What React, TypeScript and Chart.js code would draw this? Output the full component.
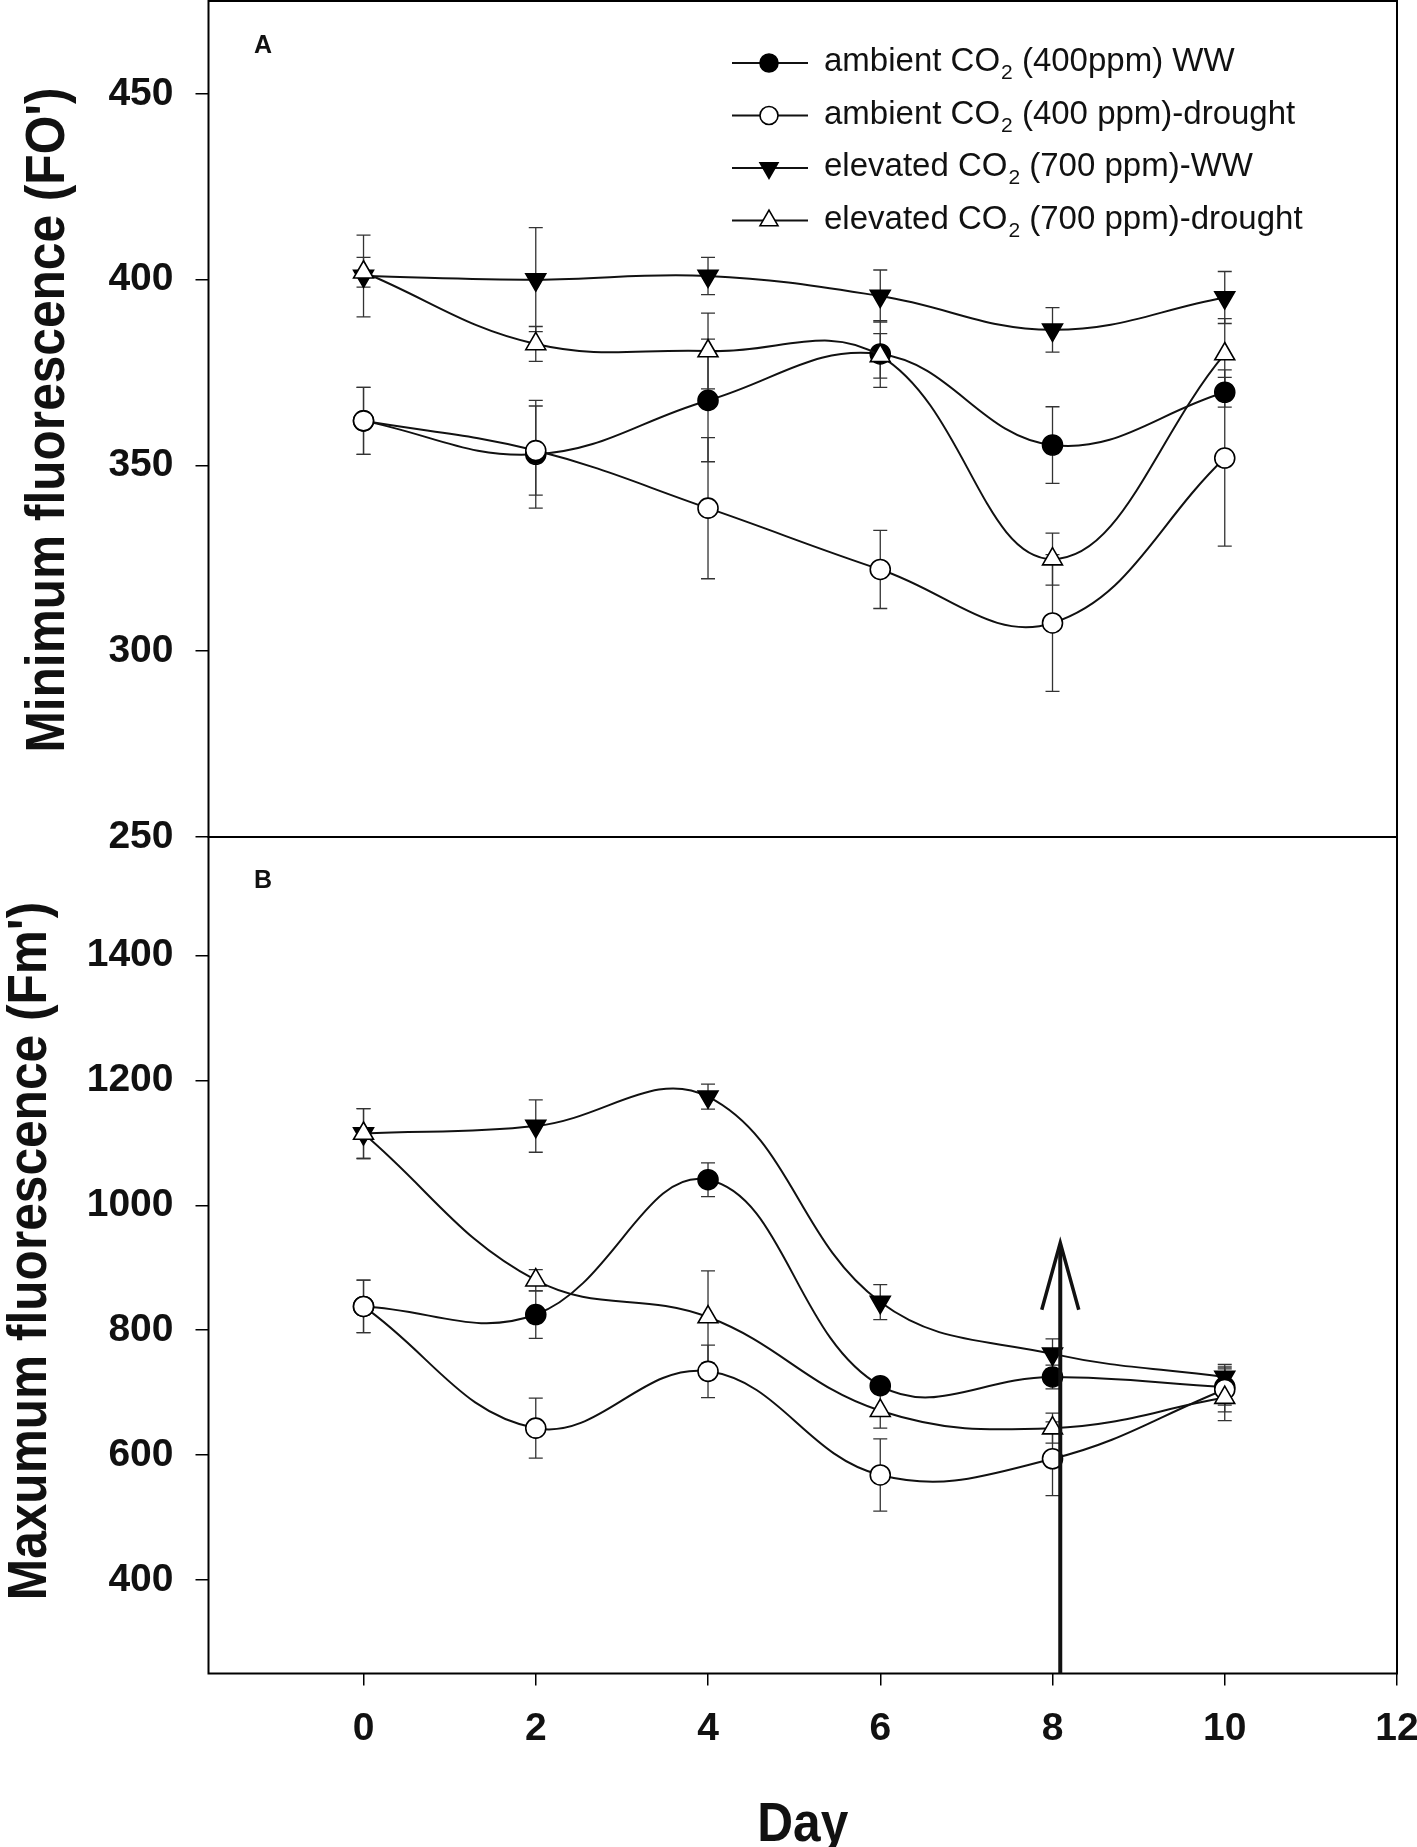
import { useEffect, useRef } from 'react';
import { Chart, registerables } from 'chart.js';

Chart.register(...registerables);

// Sampling days and axis ticks
const days = [0, 2, 4, 6, 8, 10];
const dayTicks = [0, 2, 4, 6, 8, 10, 12];
const foTicks = [250, 300, 350, 400, 450];
const fmTicks = [400, 600, 800, 1000, 1200, 1400];

// Panel A: minimum fluorescence (FO'), means and error bars
const foAmbientWW = [362, 353, 367.5, 380, 355.5, 369.7];
const foAmbientDrought = [362, 354, 338.5, 322, 307.6, 352];
const foElevatedWW = [401, 400, 401, 395.6, 386.5, 395.2];
const foElevatedDrought = [402, 382.7, 380.8, 379.5, 324.8, 380];
const foAmbientWWErr = [9, 14.5, 16.5, 9, 10.3, 4];
const foAmbientDroughtErr = [9, 12, 19, 10.5, 18.4, 23.7];
const foElevatedWWErr = [11, 14, 5, 7, 6, 7];
const foElevatedDroughtErr = [4, 4.7, 10.2, 6, 7, 9.5];

// Panel B: maximum fluorescence (Fm'), means and error bars
const fmAmbientWW = [838, 825, 1041, 711, 725, 709];
const fmAmbientDrought = [838, 643, 734, 568, 594, 705];
const fmElevatedWW = [1115, 1127, 1174, 845, 762, 725];
const fmElevatedDrought = [1115, 880, 821, 671, 643, 692];
const fmAmbientWWErr = [42, 38, 27, 8, 19, 29];
const fmAmbientDroughtErr = [42, 48, 42, 58, 59, 36];
const fmElevatedWWErr = [40, 42, 20, 28, 24, 20];
const fmElevatedDroughtErr = [40, 17, 74, 28, 24, 37];

// Arrow annotation in panel B (day, Fm' value at the tip)
const arrowDay = 8.09;
const arrowTopValue = 940;

const seriesLabels = [
  ['ambient CO', '2', ' (400ppm) WW'],
  ['ambient CO', '2', ' (400 ppm)-drought'],
  ['elevated CO', '2', ' (700 ppm)-WW'],
  ['elevated CO', '2', ' (700 ppm)-drought'],
];

const seriesStyles = [
  { style: 'circle', radius: 10, rotation: 0, fill: '#000', order: 4 },
  { style: 'circle', radius: 10, rotation: 0, fill: '#fff', order: 2 },
  { style: 'triangle', radius: 11.5, rotation: 180, fill: '#000', order: 3 },
  { style: 'triangle', radius: 11.5, rotation: 0, fill: '#fff', order: 1 },
];

const FONT = '"Liberation Sans", Arial, Helvetica, sans-serif';
// the top canvas starts above the page so Chart.js label padding stays off the plot
const TOP_SHIFT = 29;

function makeDatasets(values: number[][], errors: number[][]) {
  return values.map((vals, i) => {
    const st = seriesStyles[i];
    return {
      label: seriesLabels[i][0] + '₂' + seriesLabels[i][2],
      data: days.map((d, j) => ({ x: d, y: vals[j] })),
      errors: errors[i],
      borderColor: '#111',
      borderWidth: 2,
      tension: 0.4,
      fill: false,
      pointStyle: st.style,
      pointRadius: st.radius,
      pointRotation: st.rotation,
      pointBackgroundColor: st.fill,
      pointBorderColor: '#000',
      pointBorderWidth: 1.6,
      order: st.order,
    };
  });
}

function drawMarker(ctx: CanvasRenderingContext2D, i: number, x: number, y: number) {
  const st = seriesStyles[i];
  ctx.beginPath();
  if (st.style === 'circle') {
    ctx.arc(x, y, st.radius * 0.9, 0, Math.PI * 2);
  } else {
    const r = st.radius * 0.9;
    let rad = (st.rotation * Math.PI) / 180;
    for (let k = 0; k < 3; k++) {
      const px = x + Math.sin(rad) * r;
      const py = y - Math.cos(rad) * r;
      if (k === 0) ctx.moveTo(px, py);
      else ctx.lineTo(px, py);
      rad += (2 * Math.PI) / 3;
    }
    ctx.closePath();
  }
  ctx.fillStyle = st.fill;
  ctx.fill();
  ctx.lineWidth = 1.6;
  ctx.strokeStyle = '#000';
  ctx.stroke();
}

const errorBarPlugin = {
  id: 'errorBars',
  beforeDatasetsDraw(chart: any) {
    const { ctx } = chart;
    const xs = chart.scales.x;
    const ys = chart.scales.y;
    ctx.save();
    ctx.strokeStyle = '#333';
    ctx.lineWidth = 1.3;
    chart.data.datasets.forEach((ds: any) => {
      ds.data.forEach((p: any, j: number) => {
        const e = ds.errors[j];
        const px = xs.getPixelForValue(p.x);
        const top = ys.getPixelForValue(p.y + e);
        const bot = ys.getPixelForValue(p.y - e);
        ctx.beginPath();
        ctx.moveTo(px, top);
        ctx.lineTo(px, bot);
        ctx.moveTo(px - 7, top);
        ctx.lineTo(px + 7, top);
        ctx.moveTo(px - 7, bot);
        ctx.lineTo(px + 7, bot);
        ctx.stroke();
      });
    });
    ctx.restore();
  },
};

const framePlugin = {
  id: 'frame',
  afterDatasetsDraw(chart: any) {
    const { ctx, chartArea: a } = chart;
    ctx.save();
    ctx.strokeStyle = '#000';
    ctx.lineWidth = 2;
    ctx.strokeRect(a.left, a.top, a.right - a.left, a.bottom - a.top);
    ctx.restore();
  },
};

function drawTitle(ctx: CanvasRenderingContext2D, text: string, x: number, y: number, vertical: boolean) {
  ctx.save();
  ctx.translate(x, y);
  if (vertical) ctx.rotate(-Math.PI / 2);
  ctx.scale(0.886, 1);
  ctx.font = `bold 56px ${FONT}`;
  ctx.fillStyle = '#111';
  ctx.textAlign = 'center';
  ctx.textBaseline = 'alphabetic';
  ctx.fillText(text, 0, 0);
  ctx.restore();
}

function textPlugin(opts: {
  shift: number;
  yTitle: string;
  yTitleX: number;
  yTitleY: number;
  letter: string;
  letterY: number;
  xTitle?: string;
  xTitleY?: number;
}) {
  return {
    id: 'texts',
    afterDraw(chart: any) {
      const { ctx } = chart;
      ctx.save();
      ctx.translate(0, opts.shift);
      drawTitle(ctx, opts.yTitle, opts.yTitleX, opts.yTitleY, true);
      if (opts.xTitle) {
        const a = chart.chartArea;
        drawTitle(ctx, opts.xTitle, (a.left + a.right) / 2, opts.xTitleY as number, false);
      }
      ctx.font = `bold 25px ${FONT}`;
      ctx.fillStyle = '#111';
      ctx.textAlign = 'center';
      ctx.textBaseline = 'middle';
      ctx.fillText(opts.letter, 263, opts.letterY);
      ctx.restore();
    },
  };
}

const legendPlugin = {
  id: 'customLegend',
  afterDraw(chart: any) {
    const { ctx } = chart;
    ctx.save();
    ctx.translate(0, TOP_SHIFT);
    seriesLabels.forEach((parts, i) => {
      const y = 63 + i * 52.5;
      ctx.strokeStyle = '#111';
      ctx.lineWidth = 2;
      ctx.beginPath();
      ctx.moveTo(732, y);
      ctx.lineTo(808, y);
      ctx.stroke();
      drawMarker(ctx, i, 769, y);
      ctx.fillStyle = '#111';
      ctx.textAlign = 'left';
      ctx.textBaseline = 'alphabetic';
      let x = 824;
      ctx.font = `33px ${FONT}`;
      ctx.fillText(parts[0], x, y + 8);
      x += ctx.measureText(parts[0]).width + 1;
      ctx.font = `21px ${FONT}`;
      ctx.fillText(parts[1], x, y + 16);
      x += ctx.measureText(parts[1]).width;
      ctx.font = `33px ${FONT}`;
      ctx.fillText(parts[2], x, y + 8);
    });
    ctx.restore();
  },
};

const arrowPlugin = {
  id: 'arrow',
  afterDatasetsDraw(chart: any) {
    const { ctx, chartArea } = chart;
    const px = chart.scales.x.getPixelForValue(arrowDay);
    const tip = chart.scales.y.getPixelForValue(arrowTopValue);
    ctx.save();
    ctx.strokeStyle = '#111';
    ctx.lineWidth = 4;
    ctx.lineJoin = 'miter';
    ctx.beginPath();
    ctx.moveTo(px, chartArea.bottom);
    ctx.lineTo(px, tip + 4);
    ctx.stroke();
    ctx.lineWidth = 3.5;
    ctx.beginPath();
    ctx.moveTo(px - 18.5, tip + 67);
    ctx.lineTo(px, tip);
    ctx.lineTo(px + 18.5, tip + 67);
    ctx.stroke();
    ctx.restore();
  },
};

const tickFont = { family: FONT, size: 39, weight: 'bold' as const };
const tickGrid = (len: number) => ({
  display: true,
  drawOnChartArea: false,
  drawTicks: true,
  tickLength: len,
  color: '#000',
  lineWidth: 1.5,
});

function yScale(min: number, max: number, ticks: number[]) {
  return {
    type: 'linear' as const,
    min,
    max,
    afterBuildTicks: (s: any) => {
      s.ticks = ticks.map((v) => ({ value: v }));
    },
    afterFit: (s: any) => {
      s.width = 208.5;
      s.paddingTop = 0;
      s.paddingBottom = 0;
    },
    ticks: { font: tickFont, color: '#111', padding: 22, autoSkip: false, callback: (v: any) => String(v) },
    grid: tickGrid(13),
    border: { display: false },
  };
}

function xScale(show: boolean) {
  return {
    type: 'linear' as const,
    min: -1.8,
    max: 12,
    display: show,
    afterBuildTicks: (s: any) => {
      s.ticks = dayTicks.map((v) => ({ value: v }));
    },
    afterFit: (s: any) => {
      s.height = show ? 173.5 : 0;
      s.paddingLeft = 0;
      s.paddingRight = 0;
    },
    ticks: { font: tickFont, color: '#111', padding: 20, autoSkip: false, maxRotation: 0, callback: (v: any) => String(v) },
    grid: tickGrid(12),
    border: { display: false },
  };
}

export default function App() {
  const topRef = useRef<HTMLCanvasElement>(null);
  const bottomRef = useRef<HTMLCanvasElement>(null);

  useEffect(() => {
    if (!topRef.current || !bottomRef.current) return;

    const top = new Chart(topRef.current, {
      type: 'line',
      data: {
        datasets: makeDatasets(
          [foAmbientWW, foAmbientDrought, foElevatedWW, foElevatedDrought],
          [foAmbientWWErr, foAmbientDroughtErr, foElevatedWWErr, foElevatedDroughtErr],
        ) as any,
      },
      options: {
        responsive: false,
        animation: false,
        layout: { padding: { left: 0, right: 20, top: 1 + TOP_SHIFT, bottom: 43 } },
        plugins: { legend: { display: false }, tooltip: { enabled: false } },
        scales: { x: xScale(false), y: yScale(250, 475, foTicks) } as any,
      },
      plugins: [
        errorBarPlugin,
        framePlugin,
        legendPlugin,
        textPlugin({
          shift: TOP_SHIFT,
          yTitle: "Minimum fluorescence (FO')",
          yTitleX: 64,
          yTitleY: 420,
          letter: 'A',
          letterY: 46,
        }),
      ],
    });

    const bottom = new Chart(bottomRef.current, {
      type: 'line',
      data: {
        datasets: makeDatasets(
          [fmAmbientWW, fmAmbientDrought, fmElevatedWW, fmElevatedDrought],
          [fmAmbientWWErr, fmAmbientDroughtErr, fmElevatedWWErr, fmElevatedDroughtErr],
        ) as any,
      },
      options: {
        responsive: false,
        animation: false,
        layout: { padding: { left: 0, right: 20, top: 17, bottom: 0 } },
        plugins: { legend: { display: false }, tooltip: { enabled: false } },
        scales: { x: xScale(true), y: yScale(250, 1590, fmTicks) } as any,
      },
      plugins: [
        errorBarPlugin,
        framePlugin,
        arrowPlugin,
        textPlugin({
          shift: 0,
          yTitle: "Maxumum fluorescence (Fm')",
          yTitleX: 46,
          yTitleY: 431,
          letter: 'B',
          letterY: 61,
          xTitle: 'Day',
          xTitleY: 1021,
        }),
      ],
    });

    return () => {
      top.destroy();
      bottom.destroy();
    };
  }, []);

  return (
    <div style={{ position: 'absolute', left: 0, top: 0, width: 1417, height: 1847, background: '#fff', overflow: 'hidden' }}>
      <canvas
        ref={topRef}
        width={1417}
        height={880 + TOP_SHIFT}
        style={{ position: 'absolute', left: 0, top: -TOP_SHIFT, width: 1417, height: 880 + TOP_SHIFT }}
      />
      <canvas
        ref={bottomRef}
        width={1417}
        height={1027}
        style={{ position: 'absolute', left: 0, top: 820, width: 1417, height: 1027 }}
      />
    </div>
  );
}
